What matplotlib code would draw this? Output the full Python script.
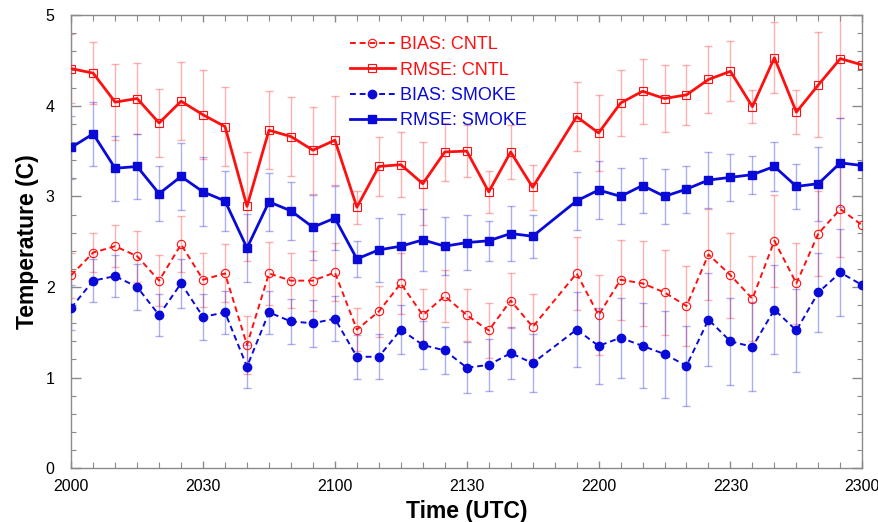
import numpy as np
import matplotlib.pyplot as plt
from matplotlib.ticker import MultipleLocator, FixedLocator, FixedFormatter

plt.rcParams['font.family'] = ['Liberation Sans', 'DejaVu Sans']

# valid times (HHMM, UTC); 2150 has no data
times = [2000, 2005, 2010, 2015, 2020, 2025, 2030, 2035, 2040, 2045, 2050, 2055,
         2100, 2105, 2110, 2115, 2120, 2125, 2130, 2135, 2140, 2145,
         2155, 2200, 2205, 2210, 2215, 2220, 2225, 2230, 2235, 2240, 2245, 2250, 2255, 2300]

rmse_cntl = [4.41, 4.36, 4.04, 4.08, 3.81, 4.05, 3.90, 3.77, 2.89, 3.73, 3.66, 3.51,
             3.62, 2.88, 3.33, 3.35, 3.14, 3.49, 3.50, 3.05, 3.49, 3.10,
             3.88, 3.70, 4.03, 4.16, 4.08, 4.12, 4.29, 4.38, 3.99, 4.53, 3.93, 4.23, 4.52, 4.45]
rmse_cntl_err = [0.38, 0.34, 0.42, 0.39, 0.37, 0.43, 0.49, 0.44, 0.60, 0.43, 0.44, 0.48,
                 0.49, 0.18, 0.33, 0.36, 0.46, 0.32, 0.29, 0.23, 0.30, 0.25,
                 0.38, 0.42, 0.36, 0.36, 0.37, 0.33, 0.37, 0.33, 0.18, 0.39, 0.24, 0.58, 0.65, np.nan]

rmse_smoke = [3.54, 3.69, 3.31, 3.33, 3.03, 3.22, 3.05, 2.95, 2.43, 2.94, 2.84, 2.66,
              2.76, 2.31, 2.41, 2.45, 2.52, 2.45, 2.49, 2.51, 2.59, 2.56,
              2.95, 3.07, 3.00, 3.12, 3.00, 3.08, 3.18, 3.21, 3.24, 3.33, 3.11, 3.14, 3.37, 3.34]
rmse_smoke_err = [0.35, 0.35, 0.36, 0.36, 0.30, 0.37, 0.38, 0.33, 0.38, 0.32, 0.32, 0.36,
                  0.35, 0.20, 0.35, 0.36, 0.34, 0.32, 0.30, 0.22, 0.30, 0.24,
                  0.32, 0.32, 0.31, 0.30, 0.30, 0.26, 0.31, 0.26, 0.21, 0.27, 0.25, 0.41, 0.49, np.nan]

bias_cntl = [2.13, 2.38, 2.45, 2.34, 2.07, 2.47, 2.08, 2.15, 1.36, 2.15, 2.07, 2.07,
             2.16, 1.53, 1.73, 2.04, 1.69, 1.90, 1.69, 1.52, 1.85, 1.56,
             2.15, 1.69, 2.08, 2.04, 1.94, 1.79, 2.36, 2.13, 1.87, 2.51, 2.04, 2.59, 2.86, 2.68]
bias_cntl_err = [0.25, 0.22, 0.23, 0.28, 0.28, 0.31, 0.30, 0.32, 0.32, 0.35, 0.30, 0.33,
                 0.32, 0.24, 0.28, 0.34, 0.29, 0.29, 0.29, 0.30, 0.30, 0.36,
                 0.40, 0.44, 0.44, 0.47, 0.47, 0.44, 0.50, 0.47, 0.47, 0.51, 0.45, 0.47, 0.53, np.nan]

bias_smoke = [1.77, 2.07, 2.12, 2.00, 1.69, 2.04, 1.67, 1.72, 1.12, 1.72, 1.62, 1.60,
              1.65, 1.23, 1.23, 1.53, 1.36, 1.30, 1.11, 1.14, 1.27, 1.16,
              1.53, 1.35, 1.44, 1.35, 1.26, 1.13, 1.64, 1.40, 1.34, 1.75, 1.52, 1.94, 2.16, 2.02]
bias_smoke_err = [0.25, 0.24, 0.23, 0.25, 0.23, 0.27, 0.25, 0.24, 0.24, 0.24, 0.25, 0.26,
                  0.25, 0.24, 0.25, 0.27, 0.27, 0.26, 0.28, 0.29, 0.29, 0.32,
                  0.41, 0.42, 0.44, 0.47, 0.48, 0.44, 0.51, 0.48, 0.49, 0.49, 0.46, 0.44, 0.48, np.nan]

tick_labels = ['2000', '2030', '2100', '2130', '2200', '2230', '2300']

RED = '#ff1010'
BLUE = '#0a0ad8'

# minutes after 2000 UTC
x = np.array([(t // 100 - 20) * 60 + t % 100 for t in times])

fig = plt.figure(figsize=(8.79, 5.22), dpi=100)
ax = fig.add_axes([0.081, 0.103, 0.9, 0.868])

series = [
    (bias_cntl, bias_cntl_err, RED, 'o', 'none', (0, (3, 2)), 1.4, 'BIAS: CNTL'),
    (rmse_cntl, rmse_cntl_err, RED, 's', 'none', '-', 2.0, 'RMSE: CNTL'),
    (bias_smoke, bias_smoke_err, BLUE, 'o', BLUE, (0, (3, 2)), 1.4, 'BIAS: SMOKE'),
    (rmse_smoke, rmse_smoke_err, BLUE, 's', BLUE, '-', 2.0, 'RMSE: SMOKE'),
]

for y, err, c, m, fc, ls, lw, lab in series:
    ax.errorbar(x, y, yerr=err, fmt='none', ecolor=c, alpha=0.33, elinewidth=1.0,
                capsize=3, capthick=1.0, zorder=1)

handles = []
for y, err, c, m, fc, ls, lw, lab in series:
    h, = ax.plot(x, y, color=c, ls=ls, lw=lw, marker=m, ms=6,
                 mfc=fc, mec=c, mew=0.8 if fc == 'none' else 1.0, label=lab, zorder=3)
    handles.append(h)

ax.set_xlim(0, 180)
ax.set_ylim(0, 5)
ax.xaxis.set_major_locator(FixedLocator(np.arange(0, 181, 30)))
ax.xaxis.set_major_formatter(FixedFormatter(tick_labels))
ax.xaxis.set_minor_locator(MultipleLocator(5))
ax.yaxis.set_major_locator(MultipleLocator(1))
ax.yaxis.set_minor_locator(MultipleLocator(0.2))

for s in ax.spines.values():
    s.set_color('#8a8a8a')
    s.set_linewidth(1.0)
ax.tick_params(which='both', direction='in', top=True, right=True, color='#8a8a8a',
               labelsize=11.5)
ax.tick_params(axis='y', which='major', length=7, width=1.0, pad=12)
ax.tick_params(axis='y', which='minor', length=3.5, width=0.8)
ax.tick_params(axis='x', which='major', length=5, width=1.0, pad=8)
ax.tick_params(axis='x', which='minor', length=4.5, width=0.8)

ax.set_xlabel('Time (UTC)', fontsize=16.5, fontweight='bold', labelpad=4)
ax.set_ylabel('Temperature (C)', fontsize=16.5, fontweight='bold', labelpad=5)

leg = ax.legend(handles=handles, loc='upper left', bbox_to_anchor=(0.336, 0.981),
                frameon=False, fontsize=13, handlelength=2.5, handletextpad=0.3,
                labelspacing=0.46, borderpad=0.2)
for txt, h in zip(leg.get_texts(), handles):
    txt.set_color(h.get_color())

fig.savefig('out.png', dpi=100)
